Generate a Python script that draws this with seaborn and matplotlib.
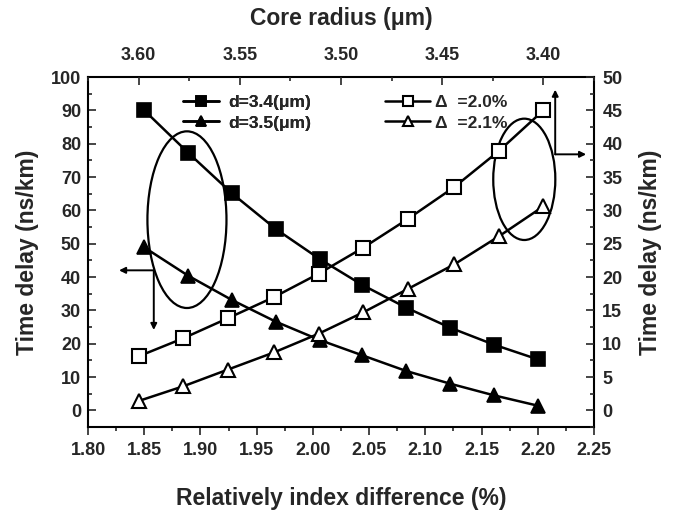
import matplotlib
matplotlib.use("Agg")
import matplotlib.pyplot as plt
import seaborn as sns
from matplotlib.patches import Ellipse
from matplotlib.ticker import MultipleLocator, FormatStrFormatter

# ---- data ----
delta = [1.850, 1.889, 1.928, 1.967, 2.006, 2.044, 2.083, 2.122, 2.161, 2.200]
radius = [3.600, 3.578, 3.556, 3.533, 3.511, 3.489, 3.467, 3.444, 3.422, 3.400]
delay_d34 = [90.0, 77.3, 65.1, 54.4, 45.4, 37.6, 30.8, 24.8, 19.7, 15.3]
delay_d35 = [48.9, 40.4, 33.1, 26.6, 21.1, 16.5, 11.8, 8.0, 4.5, 1.4]
delay_D20 = [8.1, 10.8, 13.8, 17.0, 20.5, 24.4, 28.7, 33.5, 38.9, 45.0]
delay_D21 = [1.4, 3.6, 6.1, 8.7, 11.5, 14.7, 18.2, 21.9, 26.1, 30.6]
labels_filled = ["d=3.4(\u03bcm)", "d=3.5(\u03bcm)"]
labels_open = ["\u0394  =2.0%", "\u0394  =2.1%"]

sns.set_style("ticks")
plt.rcParams["font.family"] = ["Liberation Sans", "DejaVu Sans"]
plt.rcParams["font.weight"] = "bold"
plt.rcParams["axes.labelweight"] = "bold"

W, H = 673, 515
fig = plt.figure(figsize=(W / 100, H / 100), dpi=100)
pos = [88 / W, 1 - 427 / H, (594 - 88) / W, (427 - 77) / H]
ax = fig.add_axes(pos)
ax2 = fig.add_axes(pos, frameon=False)
ax2.patch.set_visible(False)

lw = 1.8
ms = 10
common = dict(color="black", linewidth=lw, markersize=ms, legend=False)
sns.lineplot(x=delta, y=delay_d34, marker="s", ax=ax, markeredgecolor="black",
             markerfacecolor="black", markeredgewidth=1.2, **common)
sns.lineplot(x=delta, y=delay_d35, marker="^", ax=ax, markeredgecolor="black",
             markerfacecolor="black", markeredgewidth=1.2, **common)
sns.lineplot(x=radius, y=delay_D20, marker="s", ax=ax2, markeredgecolor="black",
             markerfacecolor="white", markeredgewidth=1.5, **common)
sns.lineplot(x=radius, y=delay_D21, marker="^", ax=ax2, markeredgecolor="black",
             markerfacecolor="white", markeredgewidth=1.5, **common)

# limits
ax.set_xlim(1.80, 2.25)
ax.set_ylim(-5, 100)
ax2.set_xlim(3.625, 3.375)
ax2.set_ylim(-2.5, 50)

# ticks
ax.xaxis.set_major_locator(MultipleLocator(0.05))
ax.xaxis.set_minor_locator(MultipleLocator(0.025))
ax.xaxis.set_major_formatter(FormatStrFormatter("%.2f"))
ax.yaxis.set_major_locator(MultipleLocator(10))
ax.yaxis.set_minor_locator(MultipleLocator(5))
ax2.xaxis.set_major_locator(MultipleLocator(0.05))
ax2.xaxis.set_minor_locator(MultipleLocator(0.025))
ax2.xaxis.set_major_formatter(FormatStrFormatter("%.2f"))
ax2.yaxis.set_major_locator(MultipleLocator(5))
ax2.yaxis.set_minor_locator(MultipleLocator(2.5))

ax2.xaxis.tick_top()
ax2.yaxis.tick_right()
ax2.xaxis.set_label_position("top")
ax2.yaxis.set_label_position("right")

fs_tick = 13
ax.tick_params(axis="x", which="both", direction="out", bottom=True, top=False,
               labelsize=fs_tick, pad=5, width=1.2)
ax.tick_params(axis="y", which="both", direction="in", left=True, right=False,
               labelsize=fs_tick, pad=5, width=1.2)
ax2.tick_params(axis="x", which="both", direction="in", top=True, bottom=False,
                labelsize=fs_tick, pad=9, width=1.2)
ax2.tick_params(axis="y", which="both", direction="in", right=True, left=False,
                labelsize=fs_tick, pad=6, width=1.2)
for a in (ax, ax2):
    a.tick_params(which="major", length=6)
    a.tick_params(which="minor", length=3)
    for t in a.get_xticklabels() + a.get_yticklabels():
        t.set_fontweight("bold")

for s in ax.spines.values():
    s.set_visible(True)
    s.set_linewidth(1.5)
    s.set_color("black")

# labels
fs_lab = 16.5
ax.set_xlabel("Relatively index difference (%)", fontsize=fs_lab, fontweight="bold")
ax.xaxis.label.set_va("center")
ax.xaxis.set_label_coords(0.5, (427 - 498) / 350)
ax.set_ylabel("Time delay (ns/km)", fontsize=fs_lab, fontweight="bold")
ax.yaxis.label.set_va("center")
ax.yaxis.set_label_coords((28 - 88) / 506, 0.5)
ax2.set_xlabel("Core radius (\u03bcm)", fontsize=fs_lab, fontweight="bold")
ax2.xaxis.label.set_va("center")
ax2.xaxis.set_label_coords(0.5, (427 - 18) / 350)
ax2.set_ylabel("Time delay (ns/km)", fontsize=fs_lab, fontweight="bold")
ax2.yaxis.label.set_va("center")
ax2.yaxis.set_label_coords((651 - 88) / 506, 0.5)

# legends
h1 = ax.get_lines()[0:2]
h2 = ax2.get_lines()[0:2]
leg1 = ax.legend(h1, labels_filled, loc="upper left", bbox_to_anchor=(183 / W, 1 - 95 / H),
                 bbox_transform=fig.transFigure, frameon=False,
                 handlelength=2.1, handletextpad=0.5, labelspacing=0.3,
                 borderpad=0, borderaxespad=0, markerscale=0.75,
                 prop={"weight": "bold", "size": 12.5})
ax.add_artist(leg1)
leg2 = ax2.legend(h2, labels_open, loc="upper left", bbox_to_anchor=(385 / W, 1 - 95 / H),
                  bbox_transform=fig.transFigure, frameon=False,
                  handlelength=2.6, handletextpad=0.3, labelspacing=0.3,
                  borderpad=0, borderaxespad=0, markerscale=0.75,
                  prop={"weight": "bold", "size": 12.5})

# ellipses
ax.add_patch(Ellipse((1.888, 57.2), 0.0703, 53.0, fill=False, lw=1.6, edgecolor="black"))
ax.add_patch(Ellipse((2.188, 69.3), 0.0552, 36.4, fill=False, lw=1.6, edgecolor="black"))

# arrows
ap = dict(arrowstyle="-|>", color="black", lw=1.4, mutation_scale=9, shrinkA=0, shrinkB=0)
ax.annotate("", xy=(1.8276, 42.0), xytext=(1.8585, 42.0), arrowprops=ap)
ax.annotate("", xy=(1.8585, 24.1), xytext=(1.8585, 42.0), arrowprops=ap)
ax.annotate("", xy=(2.2155, 96.2), xytext=(2.2155, 76.8), arrowprops=ap)
ax.annotate("", xy=(2.243, 76.8), xytext=(2.2155, 76.8), arrowprops=ap)

fig.savefig("out.png", dpi=100)
